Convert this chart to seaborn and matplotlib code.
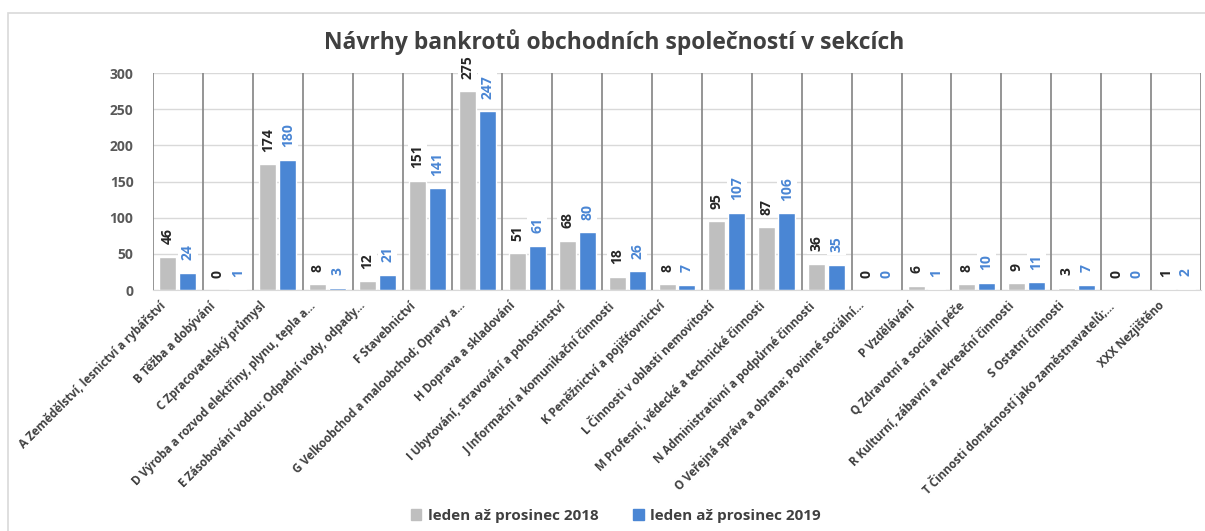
import numpy as np
import pandas as pd
import matplotlib
matplotlib.use("Agg")
import matplotlib.pyplot as plt
from matplotlib.patches import Rectangle, Patch
from matplotlib.transforms import ScaledTranslation
import seaborn as sns

# Data
sections = [
    "A Zemědělství, lesnictví a rybářství",
    "B Těžba a dobývání",
    "C Zpracovatelský průmysl",
    "D Výroba a rozvod elektřiny, plynu, tepla a...",
    "E Zásobování vodou; Odpadní vody, odpady...",
    "F Stavebnictví",
    "G Velkoobchod a maloobchod; Opravy a...",
    "H Doprava a skladování",
    "I Ubytování, stravování a pohostinství",
    "J Informační a komunikační činnosti",
    "K Peněžnictví a pojišťovnictví",
    "L Činnosti v oblasti nemovitostí",
    "M Profesní, vědecké a technické činnosti",
    "N Administrativní a podpůrné činnosti",
    "O Veřejná správa a obrana; Povinné sociální...",
    "P Vzdělávání",
    "Q Zdravotní a sociální péče",
    "R Kulturní, zábavní a rekreační činnosti",
    "S Ostatní činnosti",
    "T Činnosti domácností jako zaměstnavatelů;...",
    "XXX Nezjištěno",
]
values_2018 = [46, 0, 174, 8, 12, 151, 275, 51, 68, 18, 8, 95, 87, 36, 0, 6, 8, 9, 3, 0, 1]
values_2019 = [24, 1, 180, 3, 21, 141, 247, 61, 80, 26, 7, 107, 106, 35, 0, 1, 10, 11, 7, 0, 2]
series_names = ["leden až prosinec 2018", "leden až prosinec 2019"]
y_ticks = [0, 50, 100, 150, 200, 250, 300]

GRAY = "#bfbfbf"
BLUE = "#4a86d4"
TEXT = "#404040"

df = pd.DataFrame({
    "sekce": sections * 2,
    "pocet": values_2018 + values_2019,
    "obdobi": [series_names[0]] * len(sections) + [series_names[1]] * len(sections),
})

sns.set_style("white")
plt.rcParams["font.family"] = ["Open Sans", "DejaVu Sans"]
plt.rcParams["font.weight"] = "bold"

fig = plt.figure(figsize=(12.05, 5.31), dpi=100)
ax = fig.add_axes([153 / 1205, 1 - 290 / 531, 1048 / 1205, 217 / 531])

sns.barplot(data=df, x="sekce", y="pocet", hue="obdobi", order=sections,
            hue_order=series_names, palette=[GRAY, BLUE], width=0.8, gap=0.15,
            saturation=1, legend=False, ax=ax, zorder=2)

ax.set_xlim(-0.5, len(sections) - 0.5)
ax.set_ylim(0, 300)
ax.set_yticks(y_ticks)
ax.yaxis.grid(True, color="#d9d9d9", lw=1, zorder=0)
ax.set_axisbelow(True)
ax.vlines(np.arange(-0.5, len(sections), 1), 0, 300, color="#8c8c8c", lw=1.3, zorder=1)

for s in ["top", "right", "left"]:
    ax.spines[s].set_visible(False)
ax.spines["bottom"].set_color("#d9d9d9")
ax.tick_params(axis="both", length=0)
ax.tick_params(axis="y", pad=14, labelsize=10, labelcolor="#595959")
ax.set_xlabel("")
ax.set_ylabel("")

ax.set_xticks(range(len(sections)))
ax.set_xticklabels(sections, rotation=45, ha="right", va="center",
                   rotation_mode="anchor", fontsize=8.4, color=TEXT)
ax.tick_params(axis="x", pad=10)
shift = ScaledTranslation(-14 / 100, 0, fig.dpi_scale_trans)
for lbl in ax.get_xticklabels():
    lbl.set_transform(lbl.get_transform() + shift)

for cont, col in zip(ax.containers, ["#262626", BLUE]):
    ax.bar_label(cont, labels=[str(int(v.get_height())) for v in cont],
                 rotation=90, padding=9, fontsize=10, fontweight="bold", color=col,
                 bbox=dict(boxstyle="square,pad=0.2", fc="white", ec="none"), zorder=5)

fig.text(0.51, 1 - 42 / 531, "Návrhy bankrotů obchodních společností v sekcích",
         ha="center", va="center", fontsize=16.5, fontweight="bold", color=TEXT)

handles = [Patch(color=GRAY), Patch(color=BLUE)]
fig.legend(handles, series_names, loc="center", bbox_to_anchor=(0.511, 1 - 516 / 531),
           ncol=2, frameon=False, handlelength=0.7, handleheight=0.7,
           handletextpad=0.4, columnspacing=2.3,
           prop={"size": 11, "weight": "bold"}, labelcolor=TEXT)

fig.patches.append(Rectangle((8 / 1205, -0.1), 1.2, 0.1 + 1 - 13 / 531,
                             transform=fig.transFigure, fill=False,
                             ec="#d9d9d9", lw=1.2))

fig.savefig("out.png", dpi=100, facecolor="white")
